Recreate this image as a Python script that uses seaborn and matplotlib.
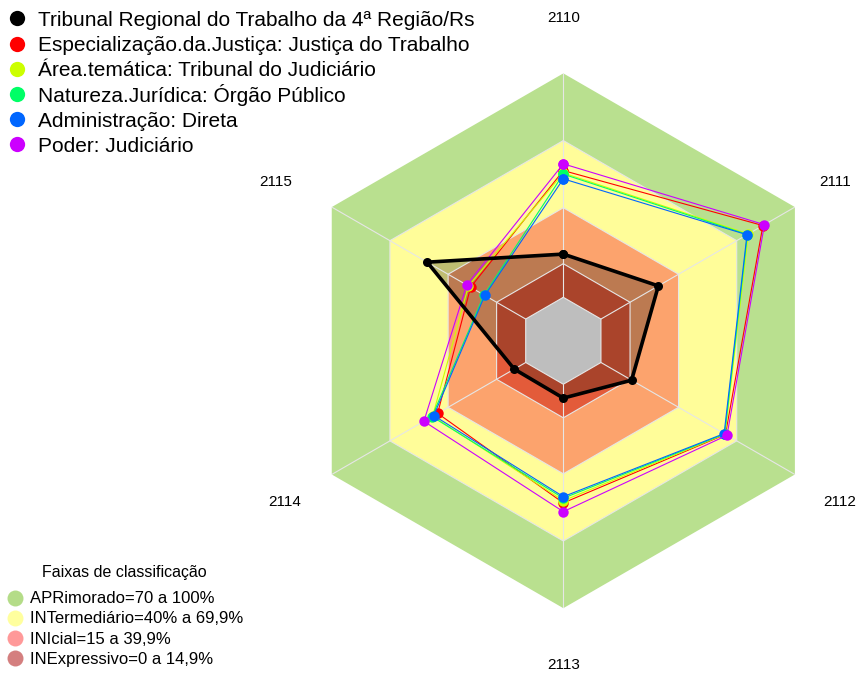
import numpy as np
import matplotlib
matplotlib.use("Agg")
import matplotlib.pyplot as plt
from matplotlib.lines import Line2D
import seaborn as sns

# axes of the radar (clockwise from the top)
categories = ["2110", "2111", "2112", "2113", "2114", "2115"]

# series values (%)
tribunal = [19.3, 29.6, 15.8, 6.2, 5.9, 50.8]
especializacao = [56.6, 83.5, 64.2, 53.0, 45.4, 28.4]
area_tematica = [55.5, 76.0, 64.0, 52.0, 48.0, 29.5]
natureza = [55.0, 75.5, 63.8, 50.9, 48.3, 21.5]
administracao = [52.9, 75.3, 63.5, 50.2, 47.4, 21.1]
poder = [59.6, 84.3, 65.0, 56.9, 52.5, 30.4]

series_names = [
    "Tribunal Regional do Trabalho da 4ª Região/Rs",
    "Especialização.da.Justiça: Justiça do Trabalho",
    "Área.temática: Tribunal do Judiciário",
    "Natureza.Jurídica: Órgão Público",
    "Administração: Direta",
    "Poder: Judiciário",
]
series_colors = ["#000000", "#FF0000", "#CCFF00", "#00FF66", "#0066FF", "#CC00FF"]

# classification bands (upper limit of each band)
band_limits = [100, 70, 40, 15]
band_colors = ["#B9E08F", "#FFFD99", "#FCA36D", "#E35B3A"]
band_labels = [
    "APRimorado=70 a 100%",
    "INTermediário=40% a 69,9%",
    "INIcial=15 a 39,9%",
    "INExpressivo=0 a 14,9%",
]
band_legend_colors = ["#B4DC88", "#FFFF9E", "#FF9999", "#D47F7F"]

sns.set_theme(style="white")
plt.rcParams["font.family"] = ["Liberation Sans", "DejaVu Sans"]
plt.rcParams["text.color"] = "black"

W, H = 863, 675
fig = plt.figure(figsize=(W / 100, H / 100), dpi=100)
ax = fig.add_axes([0.3429, 0.099, 0.6197, 0.7923], projection="polar")
ax.set_theta_zero_location("N")
ax.set_theta_direction(-1)
ax.set_ylim(-19.4, 100)   # value 0 sits on the grey core, not the centre
ax.grid(False)
ax.set_xticks([])
ax.set_yticks([])
ax.spines["polar"].set_visible(False)
ax.patch.set_alpha(0)

n = len(categories)
theta = np.linspace(0, 2 * np.pi, n + 1)

# hexagonal bands
for lim, col in zip(band_limits, band_colors):
    ax.fill(theta, [lim] * (n + 1), color=col, lw=0, zorder=1)

# black series fill goes under the grey core
vals = tribunal + tribunal[:1]
ax.fill(theta, vals, color="black", alpha=0.25, lw=0, zorder=2)
ax.fill(theta, [0] * (n + 1), color="#BEBEBE", lw=0, zorder=3)

# grid: hexagon outlines and spokes
for lim in [0, 15, 40, 70]:
    ax.plot(theta, [lim] * (n + 1), color="#E6E6E6", lw=0.8, zorder=3.5)
for t in theta[:-1]:
    ax.plot([t, t], [0, 100], color="#E6E6E6", lw=0.8, zorder=3.5)

all_series = [tribunal, especializacao, area_tematica, natureza, administracao, poder]
for i, (vals, col) in enumerate(zip(all_series, series_colors)):
    v = vals + vals[:1]
    if i == 0:
        sns.lineplot(x=theta, y=v, sort=False, estimator=None, ax=ax, color=col,
                     lw=2.6, marker="o", markersize=6.5, markeredgewidth=0, zorder=5)
    else:
        sns.lineplot(x=theta, y=v, sort=False, estimator=None, ax=ax, color=col,
                     lw=0.8, marker="o", markersize=7.5, markeredgewidth=0, zorder=4 + i * 0.1)

ax.set_xlabel("")
ax.set_ylabel("")

# axis names, offset (in pixels) from the outer vertex of each spoke
label_offsets = [(0, 55), (40, 25), (45, -27.5), (0, -57), (-46.7, -27.5), (-56, 25)]
for t, lab, (dx, dy) in zip(theta[:-1], categories, label_offsets):
    ax.annotate(lab, xy=(t, 100), xytext=(dx * 0.72, dy * 0.72), textcoords="offset points",
                ha="center", va="center", fontsize=11, annotation_clip=False)


def fx(px):
    return px / W


def fy(py):
    return 1 - py / H


# series legend (drawn row by row so the pitch stays even)
for i, (name, col) in enumerate(zip(series_names, series_colors)):
    yc = 18.3 + 25.2 * i
    fig.add_artist(Line2D([fx(17)], [fy(yc)], transform=fig.transFigure, ls="none",
                          marker="o", markersize=11, markeredgewidth=0, color=col))
    fig.text(fx(38), fy(yc + 7.7), name, fontsize=15, va="baseline", ha="left")

# bands legend
fig.text(fx(124), fy(577), "Faixas de classificação", fontsize=11.5, va="baseline", ha="center")
for i, (lab, col) in enumerate(zip(band_labels, band_legend_colors)):
    yc = 597.7 + 20.1 * i
    fig.add_artist(Line2D([fx(15)], [fy(yc)], transform=fig.transFigure, ls="none",
                          marker="o", markersize=11.5, markeredgewidth=0, color=col))
    fig.text(fx(30), fy(yc + 5.6), lab, fontsize=12, va="baseline", ha="left")

fig.savefig("out.png", dpi=100)
